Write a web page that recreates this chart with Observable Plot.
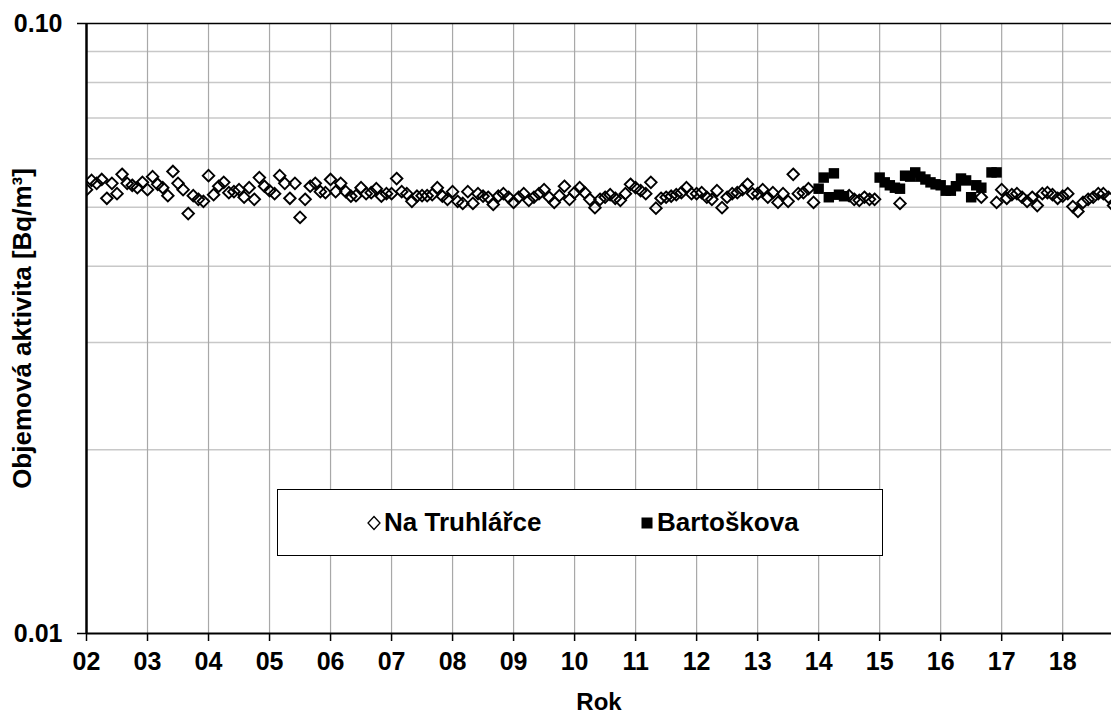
<!DOCTYPE html>
<html>
<head>
<meta charset="utf-8">
<script src="https://cdn.jsdelivr.net/npm/d3@7"></script>
<script src="https://cdn.jsdelivr.net/npm/@observablehq/plot@0.6"></script>
<style>
  body { margin: 0; background: #fff; }
  #wrap { position: relative; width: 1113px; height: 722px; font-family: "Liberation Sans", Arial, sans-serif; font-weight: bold; }
  .legend { position: absolute; left: 277px; top: 489px; width: 606px; height: 67px; border: 1.5px solid #000; background: #fff; box-sizing: border-box; }
  .item { position: absolute; top: 0; height: 100%; display: flex; align-items: center; font-size: 26px; color: #000; }
  .item svg { margin-right: 2px; }
</style>
</head>
<body>
<div id="wrap"></div>
<script>
// ---- data (monthly, starting January of the start year) ----
const truhlarceStart = 2002;
const truhlarce = [
  /*2002*/ 0.0534,0.0553,0.0547,0.0555,0.0517,0.0547,0.0526,0.0566,0.0547,0.0543,0.0538,0.0549,
  /*2003*/ 0.0534,0.0561,0.0545,0.0538,0.0522,0.0572,0.0547,0.0534,0.0488,0.0522,0.0515,0.0511,
  /*2004*/ 0.0563,0.0524,0.0541,0.0549,0.0528,0.0530,0.0534,0.0519,0.0538,0.0515,0.0559,0.0541,
  /*2005*/ 0.0532,0.0526,0.0563,0.0547,0.0517,0.0547,0.0481,0.0515,0.0541,0.0547,0.0530,0.0528,
  /*2006*/ 0.0555,0.0530,0.0547,0.0530,0.0521,0.0522,0.0538,0.0526,0.0528,0.0536,0.0521,0.0526,
  /*2007*/ 0.0526,0.0557,0.0530,0.0526,0.0511,0.0521,0.0522,0.0522,0.0524,0.0538,0.0521,0.0515,
  /*2008*/ 0.0530,0.0511,0.0507,0.0530,0.0507,0.0526,0.0521,0.0519,0.0505,0.0521,0.0526,0.0519,
  /*2009*/ 0.0509,0.0519,0.0526,0.0513,0.0519,0.0526,0.0534,0.0519,0.0509,0.0522,0.0541,0.0515,
  /*2010*/ 0.0528,0.0538,0.0528,0.0515,0.0499,0.0515,0.0519,0.0524,0.0517,0.0513,0.0526,0.0545,
  /*2011*/ 0.0538,0.0532,0.0526,0.0549,0.0498,0.0517,0.0519,0.0521,0.0524,0.0528,0.0538,0.0526,
  /*2012*/ 0.0526,0.0528,0.0519,0.0515,0.0532,0.0499,0.0519,0.0526,0.0528,0.0534,0.0545,0.0526,
  /*2013*/ 0.0526,0.0534,0.0519,0.0528,0.0509,0.0526,0.0511,0.0566,0.0526,0.0528,0.0536,0.0509,
  /*2014*/ null,null,null,null,null,null,0.0522,0.0515,0.0513,0.0519,0.0515,0.0515,
  /*2015*/ null,null,null,null,0.0507,null,null,null,null,null,null,null,
  /*2016*/ null,null,null,null,null,null,null,null,0.0519,null,null,0.0509,
  /*2017*/ 0.0534,0.0517,0.0524,0.0526,0.0519,0.0511,0.0519,0.0503,0.0526,0.0528,0.0524,0.0517,
  /*2018*/ 0.0521,0.0526,0.0501,0.0492,0.0509,0.0515,0.0519,0.0526,0.0526,0.0519,0.0503
];
const bartoskovaStart = 2014;
const bartoskova = [
  /*2014*/ 0.0536,0.0559,0.0519,0.0568,0.0524,0.0521,null,null,null,null,null,null,
  /*2015*/ 0.0559,0.0549,0.0543,0.0538,0.0536,0.0563,0.0561,0.0570,0.0561,0.0555,0.0549,0.0545,
  /*2016*/ 0.0543,0.0532,0.0532,0.0541,0.0557,0.0553,0.0519,0.0543,0.0538,null,0.0570,0.0570
];
const seriesNames = ["Na Truhlářce", "Bartoškova"];
const yearTicks = [2002,2003,2004,2005,2006,2007,2008,2009,2010,2011,2012,2013,2014,2015,2016,2017,2018];
const yearLabels = ["02","03","04","05","06","07","08","09","10","11","12","13","14","15","16","17","18"];
const yTicks = [0.01, 0.1];
const yTickLabels = ["0.01", "0.10"];
const yGrid = [0.02,0.03,0.04,0.05,0.06,0.07,0.08,0.09];
const xTitle = "Rok";
const yTitle = "Objemová aktivita [Bq/m³]";

const toRows = (arr, start) => arr.map((v, i) => ({t: start + i / 12, v})).filter(d => d.v != null);
const truhData = toRows(truhlarce, truhlarceStart);
const bartData = toRows(bartoskova, bartoskovaStart);
const xLabelRows = yearTicks.map((t, i) => ({t, label: yearLabels[i]}));
const yLabelRows = yTicks.map((v, i) => ({v, label: yTickLabels[i]}));

const chart = Plot.plot({
  width: 1113,
  height: 722,
  marginLeft: 86,
  marginRight: 2,
  marginTop: 23,
  marginBottom: 89,
  style: {fontFamily: "'Liberation Sans', Arial, sans-serif", fontWeight: "bold", background: "white", color: "black", overflow: "visible"},
  x: {domain: [2002, 2018.8], label: null},
  y: {type: "log", domain: [0.01, 0.1], label: null},
  marks: [
    Plot.ruleY(yGrid, {stroke: "#c8c8c8", strokeWidth: 1.5}),
    Plot.ruleX(yearTicks.slice(1), {stroke: "#a8a8a8", strokeWidth: 1.2}),
    Plot.ruleY([0.1], {stroke: "#000", strokeWidth: 1.5}),
    Plot.axisY({ticks: yTicks, tickFormat: () => "", tickSize: 9, strokeWidth: 1.5, label: null}),
    Plot.axisX({ticks: yearTicks, tickFormat: () => "", tickSize: 8, strokeWidth: 1.5, label: null}),
    Plot.text(yLabelRows, {y: "v", text: "label", frameAnchor: "left", dx: -24, textAnchor: "end", lineAnchor: "middle", fontSize: 25, fontWeight: "bold", fill: "#000"}),
    Plot.text(xLabelRows, {x: "t", text: "label", frameAnchor: "bottom", dy: 28, textAnchor: "middle", lineAnchor: "middle", fontSize: 25, fontWeight: "bold", fill: "#000"}),
    Plot.ruleY([0.01], {stroke: "#000", strokeWidth: 2}),
    Plot.ruleX([2002], {stroke: "#000", strokeWidth: 2.5}),
    Plot.dot(truhData, {x: "t", y: "v", symbol: "diamond2", r: 5.2, stroke: "#000", strokeWidth: 1.9, fill: "none", clip: true}),
    Plot.dot(bartData, {x: "t", y: "v", symbol: "square", r: 5.9, fill: "#000", stroke: "none", clip: true}),
    Plot.text([xTitle], {frameAnchor: "bottom", dy: 69, textAnchor: "middle", lineAnchor: "middle", fontSize: 24, fontWeight: "bold", fill: "#000"}),
    Plot.text([yTitle], {frameAnchor: "left", dx: -64, rotate: -90, textAnchor: "middle", lineAnchor: "middle", fontSize: 26, fontWeight: "bold", fill: "#000"})
  ]
});

const wrap = document.getElementById("wrap");
wrap.appendChild(chart);

// legend (HTML overlay inside the plot area)
const legend = document.createElement("div");
legend.className = "legend";
legend.innerHTML = `
  <div class="item" style="left:88px">
    <svg width="16" height="18" viewBox="-8 -9 16 18"><path d="M0,-6.5L6,0L0,6.5L-6,0Z" fill="none" stroke="#000" stroke-width="1.3"/></svg>
    <span>${seriesNames[0]}</span>
  </div>
  <div class="item" style="left:361px">
    <svg width="16" height="18" viewBox="-8 -9 16 18"><rect x="-5.5" y="-5.5" width="11" height="11" fill="#000"/></svg>
    <span>${seriesNames[1]}</span>
  </div>`;
wrap.appendChild(legend);
</script>
</body>
</html>
